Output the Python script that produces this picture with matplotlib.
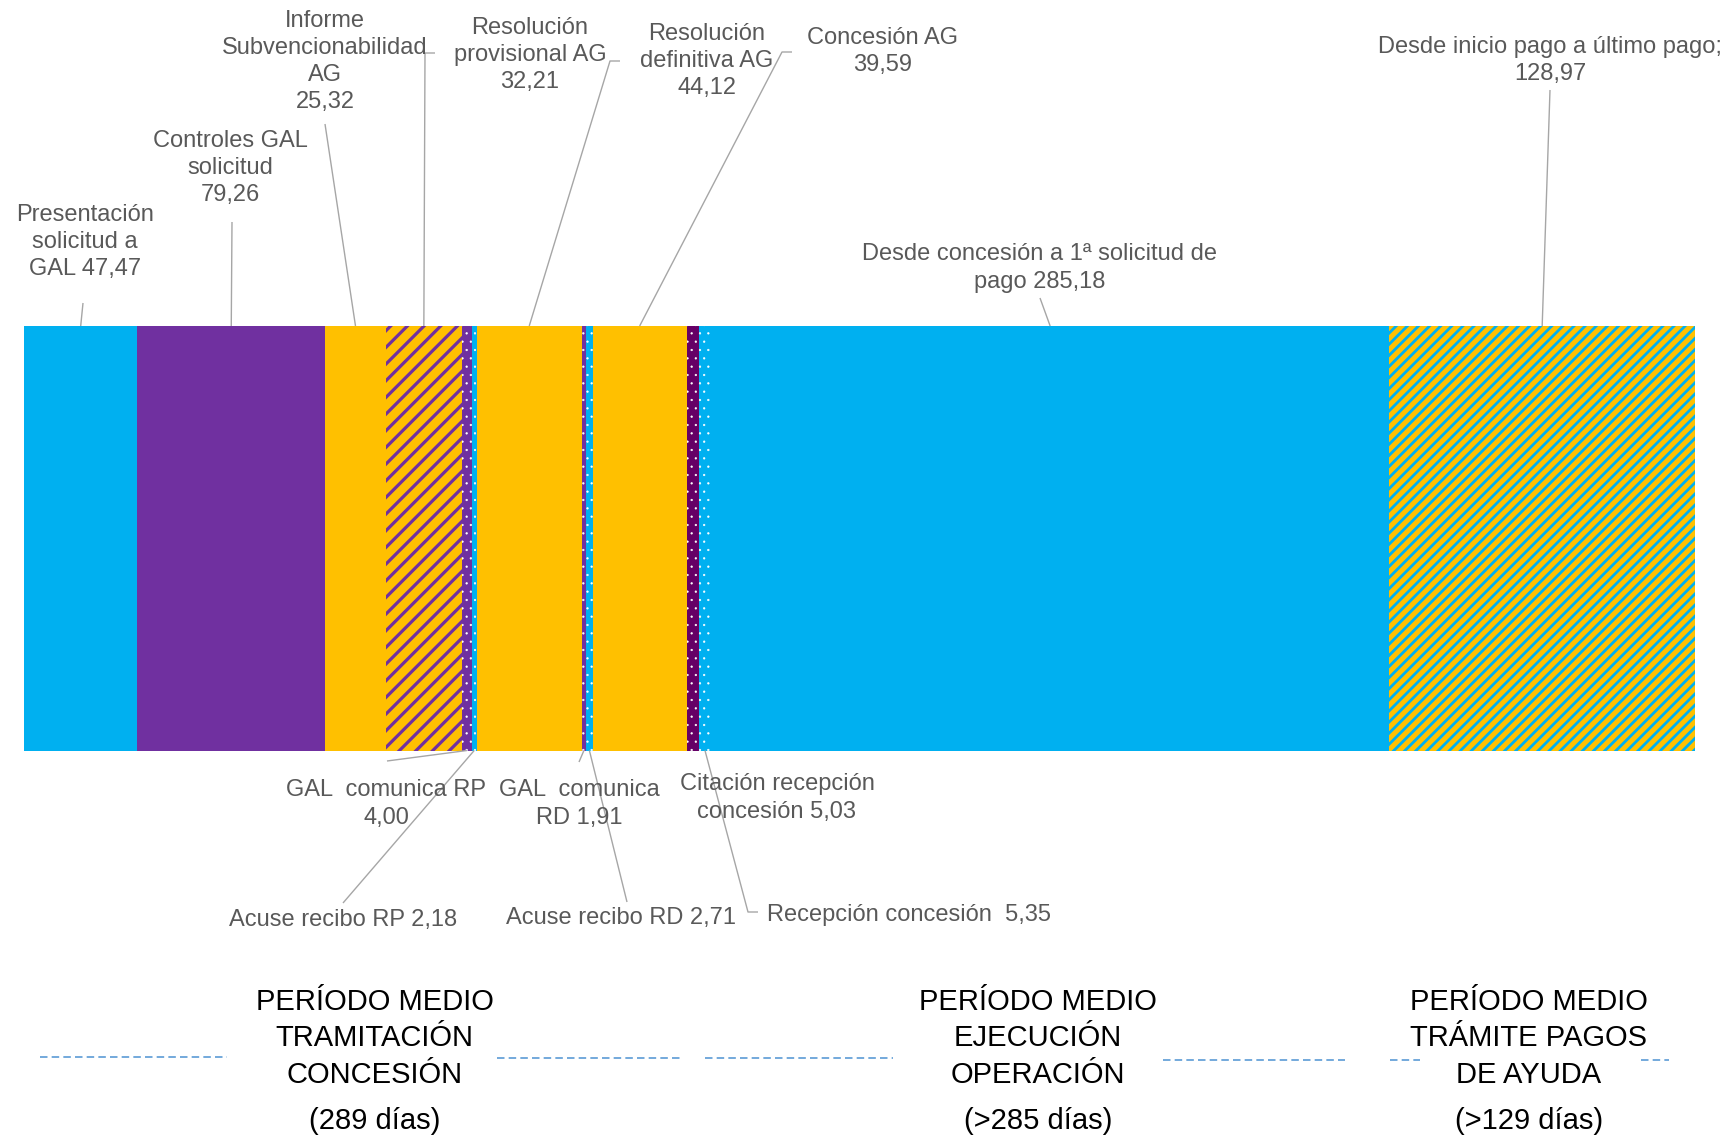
import matplotlib
matplotlib.use("Agg")
import matplotlib.pyplot as plt

# ---------------- data ----------------
categories = ["Presentación solicitud a GAL", "Controles GAL solicitud",
              "Informe Subvencionabilidad AG", "Resolución provisional AG",
              "GAL comunica RP", "Acuse recibo RP", "Resolución definitiva AG",
              "GAL comunica RD", "Acuse recibo RD", "Concesión AG",
              "Citación recepción concesión", "Recepción concesión",
              "Desde concesión a 1ª solicitud de pago",
              "Desde inicio pago a último pago"]
values = [47.47, 79.26, 25.32, 32.21, 4.00, 2.18, 44.12, 1.91, 2.71, 39.59,
          5.03, 5.35, 285.18, 128.97]
# label prefixes (as broken in the original data labels)
label_prefix = ["Presentación\nsolicitud a\nGAL ", "Controles GAL\nsolicitud\n",
                "Informe\nSubvencionabilidad\nAG\n", "Resolución\nprovisional AG\n",
                "GAL  comunica RP\n", "Acuse recibo RP ", "Resolución\ndefinitiva AG\n",
                "GAL  comunica\nRD ", "Acuse recibo RD ", "Concesión AG\n",
                "Citación recepción\nconcesión ", "Recepción concesión  ",
                "Desde concesión a 1ª solicitud de\npago ",
                "Desde inicio pago a último pago;\n"]
period_titles = ["PERÍODO MEDIO\nTRAMITACIÓN\nCONCESIÓN",
                 "PERÍODO MEDIO\nEJECUCIÓN\nOPERACIÓN",
                 "PERÍODO MEDIO\nTRÁMITE PAGOS\nDE AYUDA"]
period_days = ["(289 días)", "(>285 días)", "(>129 días)"]

# ---------------- style ----------------
CYAN, PURPLE, GOLD, DPURPLE = "#00B0F0", "#7030A0", "#FFC000", "#660066"
WHITE = "#FFFFFF"
# (face, hatch, hatch colour, hatch linewidth)
styles = [(CYAN, None, None, 0), (PURPLE, None, None, 0), (GOLD, None, None, 0),
          (GOLD, "//", PURPLE, 2.3), (PURPLE, "..", WHITE, 0.4), (CYAN, "..", WHITE, 0.4),
          (GOLD, None, None, 0), (PURPLE, "..", WHITE, 0.4), (CYAN, "..", WHITE, 0.4),
          (GOLD, None, None, 0), (DPURPLE, "..", WHITE, 0.4), (CYAN, "..", WHITE, 0.4),
          (CYAN, None, None, 0), (GOLD, "///", CYAN, 2.0)]

W, H, DPI = 1733, 1137, 100
plt.rcParams['font.family'] = ['Liberation Sans', 'DejaVu Sans']
plt.rcParams['hatch.linewidth'] = 1.8

fig = plt.figure(figsize=(W / DPI, H / DPI), dpi=DPI)

# bar axes placed in pixel layout (top-down pixel coords)
bx0, bx1, by0, by1 = 24.3, 1695.4, 326.0, 750.5
ax = fig.add_axes([bx0 / W, (H - by1) / H, (bx1 - bx0) / W, (by1 - by0) / H])
total = sum(values)
ax.set_xlim(0, total)
ax.set_ylim(0, 1)
ax.axis("off")

left = 0.0
centers = []
for v, (fc, hatch, hc, hlw) in zip(values, styles):
    if hatch:
        bars = ax.barh(0.5, v, left=left, height=1.0, color=fc, edgecolor=hc,
                       linewidth=0, hatch=hatch)
        p = bars.patches[0]
        if hasattr(p, "set_hatch_linewidth"):
            p.set_hatch_linewidth(hlw)
    else:
        ax.barh(0.5, v, left=left, height=1.0, color=fc, edgecolor=fc, linewidth=0)
    centers.append(left + v / 2)
    left += v

# overlay axes in pixel coordinates (y downward) for labels
ov = fig.add_axes([0, 0, 1, 1], facecolor="none")
ov.set_xlim(0, W)
ov.set_ylim(H, 0)
ov.axis("off")

fig.canvas.draw()


def anchor(i, top=True):
    disp = ax.transData.transform((centers[i], 1.0 if top else 0.0))
    return ov.transData.inverted().transform(disp)


# label layout: (center x, center y, leader path points (pixels), anchor on top?)
layout = [
    (85, 242, [(83, 303)], True),
    (230, 168, [(232, 222)], True),
    (325, 61.5, [(325, 124)], True),
    (530, 55, [(425, 53), (435, 53)], True),
    (386, 804, [(387, 761)], False),
    (343, 920, [(343, 903)], False),
    (707, 61, [(610, 61), (620, 61)], True),
    (579, 804, [(579, 762)], False),
    (621, 918, [(627, 902)], False),
    (883, 51.5, [(782, 52), (792, 52)], True),
    (777, 798, [], False),
    (909, 915, [(748, 912), (758, 912)], False),
    (1040, 268, [(1040, 298)], True),
    (1550, 60.5, [(1550, 90)], True),
]

GRAY = "#595959"
LEADER = "#A6A6A6"
for i, (cx, cy, path, top) in enumerate(layout):
    txt = label_prefix[i] + f"{values[i]:.2f}".replace(".", ",")
    ov.text(cx, cy, txt, ha="center", va="center", multialignment="center",
            fontsize=17, color=GRAY, zorder=3, linespacing=1.3)
    if path:
        a = anchor(i, top)
        xs = [a[0]] + [p[0] for p in path]
        ys = [a[1]] + [p[1] for p in path]
        ov.plot(xs, ys, color=LEADER, lw=1.0, zorder=2, solid_capstyle="butt")

# bottom period captions
period_x = [374.6, 1038, 1529]
for x, t, d in zip(period_x, period_titles, period_days):
    ov.text(x, 1038.5, t, ha="center", va="center", multialignment="center",
            fontsize=21, color="black", linespacing=1.4)
    ov.text(x, 1121, d, ha="center", va="center", fontsize=21, color="black")

dash_segments = [(40, 227, 1057), (497, 683, 1058), (705, 893, 1058),
                 (1163, 1345, 1060), (1390, 1420, 1060), (1641, 1669, 1060)]
for x0, x1, y in dash_segments:
    ov.plot([x0, x1], [y, y], color="#5B9BD5", lw=1.2, dashes=(4.5, 2.5))

fig.savefig("out.png", dpi=DPI, facecolor="white")
